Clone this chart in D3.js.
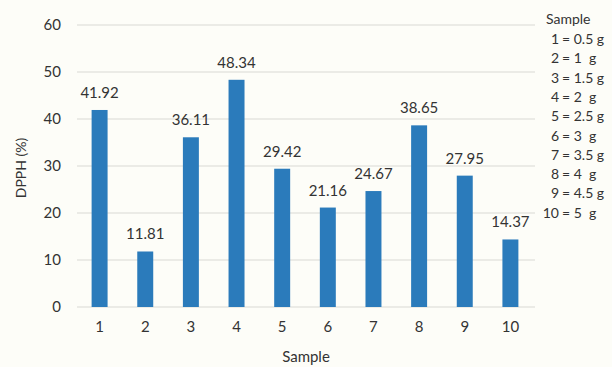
<!DOCTYPE html>
<html>
<head>
<meta charset="utf-8">
<script src="https://cdn.jsdelivr.net/npm/d3@7"></script>
<style>
  html, body { margin: 0; padding: 0; background: #fdfdf8; }
  svg { display: block; }
  text { font-family: Lato, "Open Sans", "Liberation Sans", sans-serif; fill: #333; }
</style>
</head>
<body>
<svg id="chart" width="612" height="367"></svg>
<script>
// Sample numbers and measured DPPH inhibition (%)
const categories = ["1", "2", "3", "4", "5", "6", "7", "8", "9", "10"];
const dpphValues = [41.92, 11.81, 36.11, 48.34, 29.42, 21.16, 24.67, 38.65, 27.95, 14.37];
const yTicks = [0, 10, 20, 30, 40, 50, 60];
// Sample key: number and amount
const keyNumbers = ["1", "2", "3", "4", "5", "6", "7", "8", "9", "10"];
const keyAmounts = ["= 0.5 g", "= 1  g", "= 1.5 g", "= 2  g", "= 2.5 g", "= 3  g", "= 3.5 g", "= 4  g", "= 4.5 g", "= 5  g"];

const svg = d3.select("#chart");
const plot = { left: 77, right: 533, top: 25, bottom: 307 };

const x = d3.scaleBand()
  .domain(categories)
  .range([plot.left, plot.right])
  .paddingInner(0.65)
  .paddingOuter(0.32);

const y = d3.scaleLinear()
  .domain([0, 60])
  .range([plot.bottom, plot.top]);

// Horizontal gridlines
svg.append("g")
  .selectAll("line")
  .data(yTicks)
  .join("line")
  .attr("x1", plot.left)
  .attr("x2", plot.right + 2)
  .attr("y1", d => y(d))
  .attr("y2", d => y(d))
  .attr("stroke", "#d9d9d4")
  .attr("stroke-width", 1);

// Y axis tick labels
const yAxis = svg.append("g")
  .attr("transform", `translate(${plot.left - 16},0)`)
  .call(d3.axisLeft(y).tickValues(yTicks).tickSize(0).tickPadding(0));
yAxis.select(".domain").remove();
yAxis.selectAll("text")
  .attr("font-size", 15)
  .attr("fill", "#333")
  .style("font-family", "Lato, 'Open Sans', sans-serif");

// X axis tick labels
const xAxis = svg.append("g")
  .attr("transform", `translate(0,${plot.bottom + 14})`)
  .call(d3.axisBottom(x).tickSize(0).tickPadding(0));
xAxis.select(".domain").remove();
xAxis.selectAll("text")
  .attr("font-size", 15)
  .attr("dy", "0.75em")
  .attr("fill", "#333")
  .style("font-family", "Lato, 'Open Sans', sans-serif");

// Bars
svg.append("g")
  .selectAll("rect")
  .data(dpphValues)
  .join("rect")
  .attr("x", (d, i) => x(categories[i]))
  .attr("width", x.bandwidth())
  .attr("y", d => y(d))
  .attr("height", d => y(0) - y(d))
  .attr("fill", "#2b7bbb");

// Value labels
svg.append("g")
  .selectAll("text")
  .data(dpphValues)
  .join("text")
  .attr("x", (d, i) => x(categories[i]) + x.bandwidth() / 2)
  .attr("y", d => y(d) - 12)
  .attr("text-anchor", "middle")
  .attr("font-size", 15)
  .text(d => d.toFixed(2));

// Axis titles
svg.append("text")
  .attr("transform", `translate(26,${(plot.top + plot.bottom) / 2 + 2}) rotate(-90)`)
  .attr("text-anchor", "middle")
  .attr("font-size", 14)
  .text("DPPH (%)");

svg.append("text")
  .attr("x", (plot.left + plot.right) / 2 + 1)
  .attr("y", 362)
  .attr("text-anchor", "middle")
  .attr("font-size", 15)
  .text("Sample");

// Sample key
const key = svg.append("g").attr("font-size", 14);
key.append("text").attr("x", 546).attr("y", 24).text("Sample");
key.selectAll("text.num")
  .data(keyNumbers)
  .join("text")
  .attr("class", "num")
  .attr("x", 559)
  .attr("y", (d, i) => 44 + i * 19.3)
  .attr("text-anchor", "end")
  .text(d => d);
key.selectAll("text.amt")
  .data(keyAmounts)
  .join("text")
  .attr("class", "amt")
  .attr("x", 562)
  .attr("y", (d, i) => 44 + i * 19.3)
  .style("white-space", "pre")
  .text(d => d);
</script>
</body>
</html>
